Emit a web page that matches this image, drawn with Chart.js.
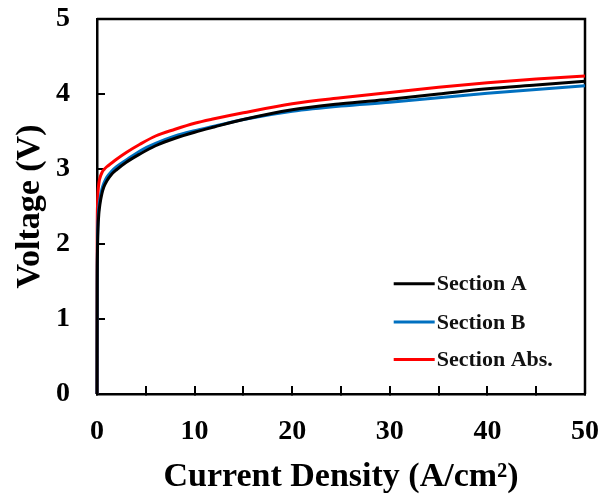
<!DOCTYPE html>
<html>
<head>
<meta charset="utf-8">
<script src="https://cdn.jsdelivr.net/npm/chart.js@4.4.0/dist/chart.umd.min.js"></script>
<style>
html,body{margin:0;padding:0;background:#fff;}
#wrap{width:602px;height:498px;}
</style>
</head>
<body>
<div id="wrap"><canvas id="c" width="602" height="498"></canvas></div>
<script>
const currentDensity = [0, 0.02, 0.05, 0.1, 0.2, 0.3, 0.5, 0.7, 1, 1.5, 2, 3, 4.4, 6, 8, 10, 12, 15, 20, 25, 30, 35, 40, 45, 50];
const sectionA   = [0, 1.4, 1.9, 2.2, 2.42, 2.53, 2.67, 2.76, 2.84, 2.93, 2.99, 3.09, 3.20, 3.31, 3.41, 3.49, 3.56, 3.66, 3.79, 3.87, 3.93, 4.00, 4.07, 4.12, 4.17];
const sectionB   = [0, 1.5, 2.0, 2.3, 2.5, 2.6, 2.73, 2.81, 2.89, 2.97, 3.03, 3.12, 3.24, 3.34, 3.44, 3.51, 3.57, 3.66, 3.77, 3.84, 3.89, 3.95, 4.01, 4.06, 4.11];
const sectionAbs = [0, 2.1, 2.5, 2.68, 2.82, 2.88, 2.95, 2.99, 3.03, 3.08, 3.13, 3.22, 3.33, 3.44, 3.53, 3.61, 3.67, 3.75, 3.87, 3.95, 4.02, 4.09, 4.15, 4.20, 4.24];
const seriesNames = ['Section A', 'Section B', 'Section Abs.'];
const seriesColors = ['#000000', '#0070C0', '#FF0000'];
const xTickLabels = [0, 10, 20, 30, 40, 50];
const yTickLabels = [0, 1, 2, 3, 4, 5];

const serif = "'Liberation Serif', 'Times New Roman', serif";
const toPts = arr => currentDensity.map((x, i) => ({x: x, y: arr[i]}));
const seriesData = [sectionA, sectionB, sectionAbs];

const datasets = seriesData.map((d, i) => ({
  label: seriesNames[i],
  data: toPts(d),
  borderColor: seriesColors[i],
  backgroundColor: seriesColors[i],
  borderWidth: 3,
  pointRadius: 0,
  fill: false,
  cubicInterpolationMode: 'monotone',
  clip: 6
}));

const boxPlugin = {
  id: 'boxAndLegend',
  beforeDatasetsDraw(chart) {
    const {ctx, chartArea: a} = chart;
    ctx.save();
    ctx.strokeStyle = '#000';
    ctx.lineWidth = 2.5;
    ctx.beginPath();
    ctx.moveTo(a.left, a.top);
    ctx.lineTo(a.right, a.top);
    ctx.lineTo(a.right, a.bottom);
    ctx.stroke();
    ctx.restore();
  },
  afterDatasetsDraw(chart) {
    const {ctx} = chart;
    const xs = chart.scales.x, ys = chart.scales.y;
    const lx0 = xs.getPixelForValue(30.4), lx1 = xs.getPixelForValue(34.6);
    const rows = [1.47, 0.96, 0.46];
    ctx.save();
    ctx.font = "bold 22px " + serif;
    ctx.textBaseline = 'middle';
    ctx.textAlign = 'left';
    chart.data.datasets.forEach((ds, i) => {
      const y = ys.getPixelForValue(rows[i]);
      ctx.strokeStyle = ds.borderColor;
      ctx.lineWidth = 3;
      ctx.beginPath();
      ctx.moveTo(lx0, y);
      ctx.lineTo(lx1, y);
      ctx.stroke();
      ctx.fillStyle = '#111';
      ctx.fillText(ds.label, lx1 + 2, y + 1);
    });
    ctx.restore();
  }
};

new Chart(document.getElementById('c'), {
  type: 'line',
  data: { datasets: datasets },
  options: {
    responsive: false,
    animation: false,
    events: [],
    layout: { padding: { left: 0, right: 17, top: 19, bottom: 0 } },
    plugins: { legend: { display: false }, tooltip: { enabled: false } },
    scales: {
      x: {
        type: 'linear',
        min: 0, max: 50,
        afterFit: s => { s.height = 104; s.paddingLeft = 0; s.paddingRight = 0; },
        border: { display: true, color: '#000', width: 2.5 },
        grid: { display: true, drawOnChartArea: false, drawTicks: true, tickLength: -8, color: '#000', lineWidth: 2 },
        ticks: {
          stepSize: 5,
          padding: 29,
          color: '#000',
          font: { family: serif, size: 28, weight: 'bold' },
          callback: v => xTickLabels.includes(v) ? String(v) : ''
        },
        title: {
          display: true,
          text: 'Current Density (A/cm²)',
          color: '#000',
          font: { family: serif, size: 34, weight: 'bold' },
          padding: { top: 0, bottom: 0 }
        }
      },
      y: {
        type: 'linear',
        min: 0, max: 5,
        afterFit: s => { s.width = 97; s.paddingTop = 0; s.paddingBottom = 0; },
        border: { display: true, color: '#000', width: 2.5 },
        grid: { display: true, drawOnChartArea: false, drawTicks: true, tickLength: -8, color: '#000', lineWidth: 2 },
        ticks: {
          stepSize: 1,
          padding: 35,
          color: '#000',
          font: { family: serif, size: 28, weight: 'bold' },
          callback: v => yTickLabels.includes(v) ? String(v) : ''
        },
        title: {
          display: true,
          text: 'Voltage (V)',
          color: '#000',
          font: { family: serif, size: 34, weight: 'bold' },
          padding: { top: 10, bottom: 0 }
        }
      }
    }
  },
  plugins: [boxPlugin]
});
</script>
</body>
</html>
